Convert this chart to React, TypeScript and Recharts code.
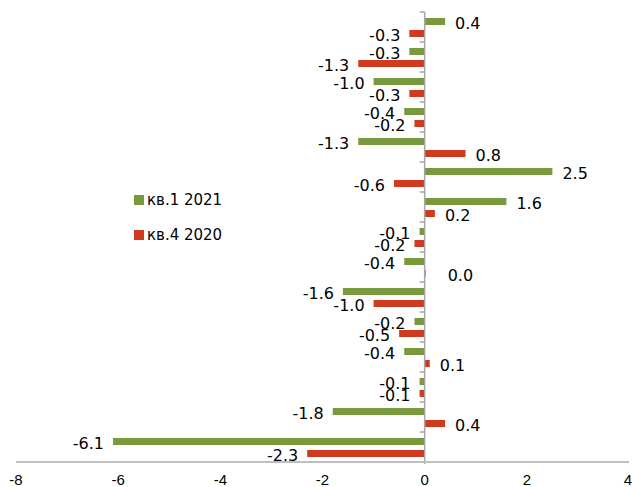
import React from 'react'
import {
  BarChart,
  Bar,
  XAxis,
  YAxis,
  Legend,
  LabelList,
  ReferenceLine,
} from 'recharts'

// one entry per row of the breakdown, top to bottom
const rowIds = ['r01', 'r02', 'r03', 'r04', 'r05', 'r06', 'r07', 'r08', 'r09', 'r10', 'r11', 'r12', 'r13', 'r14', 'r15']
const q1of2021 = [0.4, -0.3, -1.0, -0.4, -1.3, 2.5, 1.6, -0.1, -0.4, -1.6, -0.2, -0.4, -0.1, -1.8, -6.1]
const q4of2020 = [-0.3, -1.3, -0.3, -0.2, 0.8, -0.6, 0.2, -0.2, 0.0, -1.0, -0.5, 0.1, -0.1, 0.4, -2.3]
const xTicks = [-8, -6, -4, -2, 0, 2, 4]

const seriesNames = { q1: 'кв.1 2021', q4: 'кв.4 2020' }
const GREEN = '#789a3c'
const RED = '#d03a1e'

const data = rowIds.map((id, i) => ({ id, q1: q1of2021[i], q4: q4of2020[i] }))

const labelFont = '"DejaVu Sans", Verdana, sans-serif'

// value label: just past the bar end, on the side the bar points to
function ValueLabel(props: any) {
  const box = props.viewBox ?? props
  const { x, y, width, height } = box
  const value = Number(props.value)
  const left = Math.min(x, x + width)
  const right = Math.max(x, x + width)
  const cy = y + height / 2 + 2
  const positive = value >= 0
  return (
    <text
      x={positive ? right + (value === 0 ? 22 : 10) : left - 9}
      y={cy}
      textAnchor={positive ? 'start' : 'end'}
      dominantBaseline="central"
      fontFamily={labelFont}
      fontSize={16}
      fill="#000"
    >
      {value.toFixed(1)}
    </text>
  )
}

function XTick({ x, y, payload }: any) {
  return (
    <text
      x={x}
      y={y}
      textAnchor="middle"
      dominantBaseline="central"
      fontFamily='"Liberation Sans", Arial, sans-serif'
      fontSize={15}
      fill="#000"
    >
      {payload.value}
    </text>
  )
}

// zero line doubles as the category axis, with short ticks between rows
function ZeroAxis(props: any) {
  const { x1, y1, y2 } = props
  const top = Math.min(y1, y2)
  const bottom = Math.max(y1, y2)
  const step = (bottom - top) / rowIds.length
  const marks = []
  for (let i = 0; i <= rowIds.length; i++) {
    const ty = top + i * step
    marks.push(<line key={i} x1={x1 - 5} y1={ty} x2={x1} y2={ty} stroke="#a6a6a6" strokeWidth={1.5} />)
  }
  return (
    <g>
      <line x1={x1} y1={top} x2={x1} y2={bottom + 2} stroke="#a6a6a6" strokeWidth={1.5} />
      {marks}
    </g>
  )
}

function LegendBox({ payload }: any) {
  return (
    <div style={{ fontFamily: labelFont, fontSize: 15, color: '#000' }}>
      {(payload ?? []).map((p: any) => (
        <div key={p.value} style={{ display: 'flex', alignItems: 'center', height: 35 }}>
          <span style={{ width: 10, height: 10, background: p.color, marginRight: 3, display: 'inline-block' }} />
          <span>{p.value}</span>
        </div>
      ))}
    </div>
  )
}

export default function App() {
  return (
    <div style={{ position: 'absolute', left: 0, top: 0, background: '#fff' }}>
      <BarChart
        width={632}
        height={487}
        data={data}
        layout="vertical"
        margin={{ top: 12, right: 3, bottom: 0, left: 16 }}
        barSize={7}
        barGap={5}
      >
        <XAxis
          type="number"
          domain={[-8, 4]}
          ticks={xTicks}
          allowDataOverflow
          height={25}
          axisLine={{ stroke: '#bfbfbf', strokeWidth: 2 }}
          tickLine={false}
          tickSize={0}
          tickMargin={17}
          tick={<XTick />}
        />
        <YAxis type="category" dataKey="id" hide />
        <Legend
          layout="vertical"
          align="center"
          verticalAlign="middle"
          wrapperStyle={{ left: 134, top: 182, width: 'auto' }}
          content={<LegendBox />}
        />
        <Bar dataKey="q1" name={seriesNames.q1} fill={GREEN} isAnimationActive={false}>
          <LabelList dataKey="q1" content={<ValueLabel />} />
        </Bar>
        <Bar dataKey="q4" name={seriesNames.q4} fill={RED} minPointSize={1} isAnimationActive={false}>
          <LabelList dataKey="q4" content={<ValueLabel />} />
        </Bar>
        <ReferenceLine x={0} shape={<ZeroAxis />} />
      </BarChart>
    </div>
  )
}
